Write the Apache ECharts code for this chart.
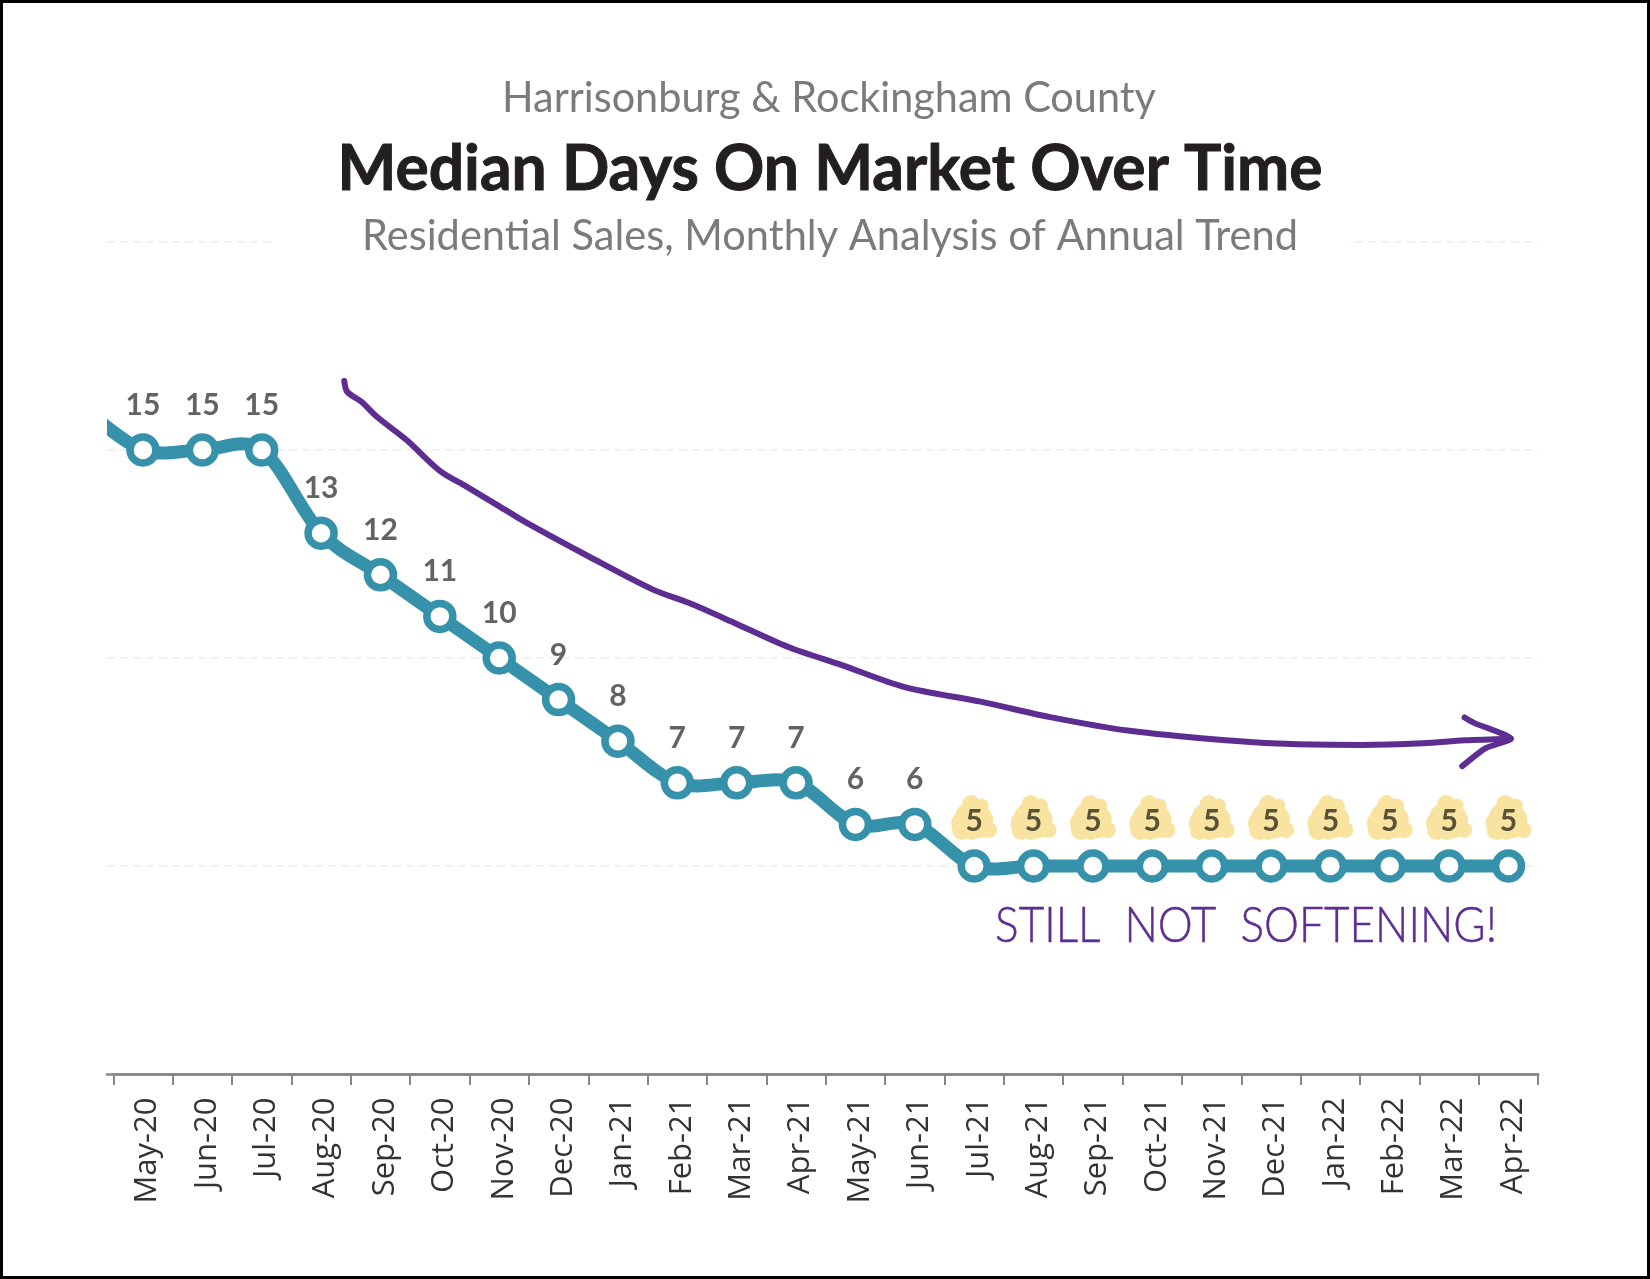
<!DOCTYPE html>
<html><head><meta charset="utf-8">
<style>html,body{margin:0;padding:0;background:#fff}#c{width:1650px;height:1279px}</style>
<script src="https://cdn.jsdelivr.net/npm/echarts@6/dist/echarts.min.js"></script>
</head><body><div id="c"></div>
<script>
const months = ['May-20','Jun-20','Jul-20','Aug-20','Sep-20','Oct-20','Nov-20','Dec-20','Jan-21','Feb-21','Mar-21','Apr-21','May-21','Jun-21','Jul-21','Aug-21','Sep-21','Oct-21','Nov-21','Dec-21','Jan-22','Feb-22','Mar-22','Apr-22'];
const medianDays = [15,15,15,13,12,11,10,9,8,7,7,7,6,6,5,5,5,5,5,5,5,5,5,5];
const priorMonth = [-1,16];
const arrowCurve = [[3.39,16.66],[3.44,16.40],[3.68,16.16],[3.94,15.80],[4.44,15.24],[5.00,14.50],[5.45,14.12],[6.01,13.64],[6.45,13.26],[7.51,12.44],[8.58,11.65],[9.20,11.32],[10.00,10.82],[10.88,10.26],[11.77,9.83],[12.83,9.30],[14.11,8.95],[15.28,8.58],[16.62,8.25],[18.18,8.03],[19.35,7.93],[20.53,7.91],[21.56,7.95],[22.26,8.02],[23.04,8.06]];
const arrowHead = [[22.26,8.57],[22.42,8.44],[23.04,8.06],[22.61,7.83],[22.22,7.40]];
const titleMain = 'Median Days On Market Over Time';
const titleTop = 'Harrisonburg & Rockingham County';
const titleSub = 'Residential Sales, Monthly Analysis of Annual Trend';
const note = 'STILL  NOT  SOFTENING!';

const TEAL='#3692AA', PURPLE='#5E2D91';
const lobes=[[-3,-62,9],[7,-60,7.5],[-3,-47,17],[-12,-43,11],[-12,-36,10],[5,-46,14],[5,-40,12],[15,-36,8],[-2,-36,10]];

const points=[priorMonth].concat(medianDays.map((v,i)=>[i,v]));
const lineData=[{value:priorMonth,symbol:'none',label:{show:false}}].concat(medianDays.map((v,i)=>({
  value:[i,v], label:{color:i>=14?'#5a5236':'#636363'}
})));
const chart=echarts.init(document.getElementById('c'),null,{renderer:'canvas'});
chart.setOption({
  animation:false,
  backgroundColor:'#fff',
  grid:[
    {left:107,right:112,top:242,bottom:205},
    {left:113.3,width:1424.9,top:242,bottom:205},
    {left:117.8,width:1424.9,top:242,bottom:205}
  ],
  xAxis:[
    {type:'value',gridIndex:0,min:-0.606,max:23.497,splitLine:{show:false},axisTick:{show:false},axisLabel:{show:false},
     axisLine:{show:true,onZero:false,lineStyle:{color:'#868686',width:2.5}}},
    {type:'category',gridIndex:1,data:months,boundaryGap:true,
     axisLine:{show:true,lineStyle:{color:'#868686',width:2.5}},
     axisTick:{show:true,length:11,interval:0,lineStyle:{color:'#868686',width:2}},
     axisLabel:{show:false}},
    {type:'category',gridIndex:2,data:months,boundaryGap:true,
     axisLine:{show:false},axisTick:{show:false},
     axisLabel:{interval:0,rotate:90,margin:23.5,fontFamily:'Open Sans',fontSize:31,color:'#333'}}
  ],
  yAxis:[
    {type:'value',gridIndex:0,min:0,max:20,interval:5,axisLine:{show:false},axisTick:{show:false},axisLabel:{show:false},
     splitLine:{show:true,lineStyle:{color:'#f1f1f1',width:2,type:[8,5]}}},
    {type:'value',gridIndex:1,min:0,max:20,show:false},
    {type:'value',gridIndex:2,min:0,max:20,show:false}
  ],
  series:[
    {type:'custom',xAxisIndex:0,yAxisIndex:0,z:2,silent:true,clip:false,
     data:medianDays.map((v,i)=>[i,v]).filter(d=>d[0]>=14),
     renderItem:(p,api)=>{
       const c=api.coord([api.value(0),api.value(1)]);
       return {type:'group',children:lobes.map(l=>({type:'circle',shape:{cx:c[0]+l[0],cy:c[1]+l[1],r:l[2]},style:{fill:'#F9E3A0'}}))};
     }},
    {type:'line',xAxisIndex:0,yAxisIndex:0,z:3,data:arrowCurve,smooth:0.3,symbol:'none',clip:false,
     lineStyle:{color:PURPLE,width:6,cap:'round',join:'round'}},
    {type:'line',xAxisIndex:0,yAxisIndex:0,z:3,data:arrowHead,smooth:0.2,symbol:'none',clip:false,
     lineStyle:{color:PURPLE,width:6,cap:'round',join:'round'}},
    {type:'custom',xAxisIndex:0,yAxisIndex:0,z:4,silent:true,clip:false,
     data:points,
     renderItem:(p,api)=>{
       const i=p.dataIndex, n=points.length;
       if(i>=n-1) return null;
       const P=k=>api.coord(points[Math.max(0,Math.min(n-1,k))]);
       const a=P(i-1),b=P(i),c=P(i+1),d=P(i+2);
       const s=p.coordSys;
       return {type:'bezierCurve',
         shape:{x1:b[0],y1:b[1],x2:c[0],y2:c[1],
           cpx1:b[0]+(c[0]-a[0])/6,cpy1:b[1]+(c[1]-a[1])/6,
           cpx2:c[0]-(d[0]-b[0])/6,cpy2:c[1]-(d[1]-b[1])/6},
         clipPath:{type:'rect',shape:{x:s.x,y:s.y,width:s.width,height:s.height}},
         style:{fill:'none',stroke:TEAL,lineWidth:13}};
     }},
    {type:'line',xAxisIndex:0,yAxisIndex:0,z:5,data:lineData,clip:true,
     symbol:'circle',symbolSize:26,showSymbol:true,
     lineStyle:{opacity:0,width:0},
     itemStyle:{color:'#fff',borderColor:TEAL,borderWidth:7.5},
     label:{show:true,position:'top',distance:13,fontFamily:'Lato',fontWeight:'bold',fontSize:30,
       formatter:p=>p.value[1]},
     emphasis:{disabled:true}}
  ],
  graphic:[
    {type:'rect',z:100,silent:true,shape:{x:1.5,y:1.5,width:1647,height:1276},style:{fill:'none',stroke:'#000',lineWidth:3}},
    {type:'rect',z:89,silent:true,shape:{x:276,y:236,width:1073,height:14},style:{fill:'#fff'}},
    {type:'text',z:90,x:829,y:98,scaleX:0.963,style:{text:titleTop,fontFamily:'Lato',fontSize:43,fill:'#7b7b7f',align:'center',verticalAlign:'middle'}},
    {type:'text',z:90,x:830,y:169,scaleX:0.974,style:{text:titleMain,fontFamily:'Lato',fontWeight:'bold',fontSize:64,fill:'#231f20',stroke:'#231f20',lineWidth:1,align:'center',verticalAlign:'middle'}},
    {type:'text',z:90,x:830,y:236,scaleX:0.967,style:{text:titleSub,fontFamily:'Lato',fontSize:43,fill:'#7b7b7f',align:'center',verticalAlign:'middle'}},
    {type:'text',z:90,x:1246,y:926,scaleX:0.883,style:{text:note,fontFamily:'Lato',fontWeight:300,fontSize:50,fill:PURPLE,stroke:PURPLE,lineWidth:0.5,align:'center',verticalAlign:'middle'}}
  ]
});
</script></body></html>
